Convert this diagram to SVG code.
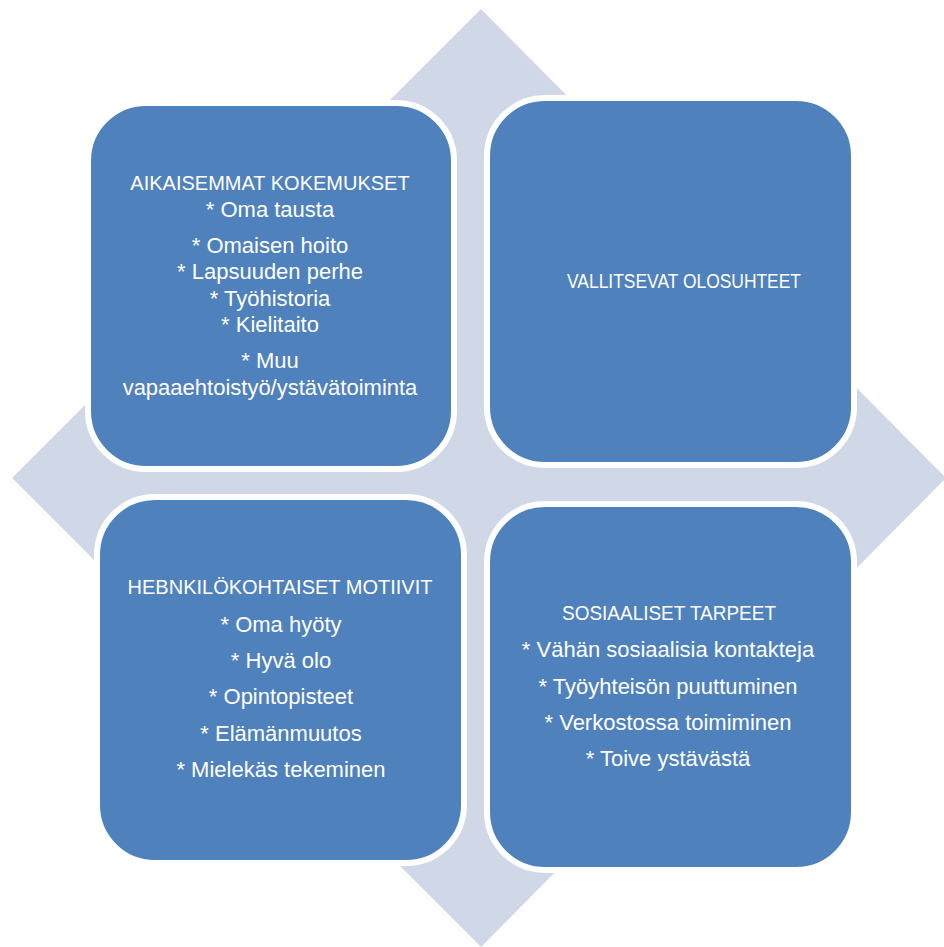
<svg xmlns="http://www.w3.org/2000/svg" width="944" height="947" viewBox="0 0 944 947">
<style>
.bg{fill:#D0D8E8}
.box{fill:#4F81BD;stroke:#FFFFFF;stroke-width:6}
text{fill:#FFFFFF;font-family:"Liberation Sans",Arial,sans-serif;text-anchor:middle}
.h{font-size:20px}
.t{font-size:22px}
</style>
<rect width="944" height="947" fill="#FFFFFF"/>
<g id="background-diamond"><polygon class="bg" points="481,9 946,478 481,947 12,478"/></g>
<g id="connectors"></g>
<g id="node-aikaisemmat">
<rect class="box" x="88" y="103" width="366" height="366" rx="58" ry="58"/>
<text class="h" x="270" y="190">AIKAISEMMAT KOKEMUKSET</text>
<text class="t" x="270" y="217">* Oma tausta</text>
<text class="t" x="270" y="253">* Omaisen hoito</text>
<text class="t" x="270" y="279">* Lapsuuden perhe</text>
<text class="t" x="270" y="306">* Työhistoria</text>
<text class="t" x="270" y="332">* Kielitaito</text>
<text class="t" x="270" y="368">* Muu</text>
<text class="t" x="270" y="395">vapaaehtoistyö/ystävätoiminta</text>
</g>
<g id="node-vallitsevat">
<rect class="box" x="487" y="98" width="367" height="367" rx="58" ry="58"/>
<text class="h" x="684" y="288" textLength="234" lengthAdjust="spacingAndGlyphs">VALLITSEVAT OLOSUHTEET</text>
</g>
<g id="node-motiivit">
<rect class="box" x="97" y="497" width="367" height="366" rx="58" ry="58"/>
<text class="h" x="280" y="594">HEBNKILÖKOHTAISET MOTIIVIT</text>
<text class="t" x="281" y="632">* Oma hyöty</text>
<text class="t" x="281" y="668">* Hyvä olo</text>
<text class="t" x="281" y="704">* Opintopisteet</text>
<text class="t" x="281" y="741">* Elämänmuutos</text>
<text class="t" x="281" y="777">* Mielekäs tekeminen</text>
</g>
<g id="node-tarpeet">
<rect class="box" x="487" y="504" width="367" height="366" rx="58" ry="58"/>
<text class="h" x="669" y="620" textLength="214" lengthAdjust="spacingAndGlyphs">SOSIAALISET TARPEET</text>
<text class="t" x="668" y="657">* Vähän sosiaalisia kontakteja</text>
<text class="t" x="668" y="694">* Työyhteisön puuttuminen</text>
<text class="t" x="668" y="730">* Verkostossa toimiminen</text>
<text class="t" x="668" y="766">* Toive ystävästä</text>
</g>
</svg>
